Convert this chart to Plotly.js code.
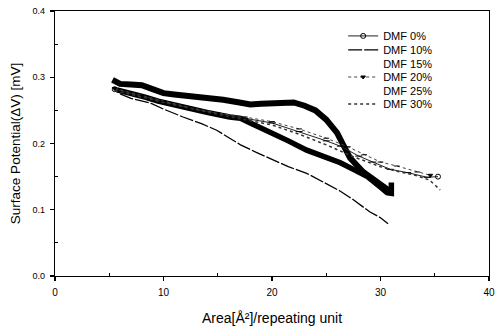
<!DOCTYPE html>
<html>
<head>
<meta charset="utf-8">
<script src="https://cdn.plot.ly/plotly-3.0.1.min.js"></script>
<style>html,body{margin:0;padding:0;background:#fff;}#chart{width:497px;height:328px;}</style>
</head>
<body>
<div id="chart"></div>
<script>
// ---- data ----
var seriesNames = ['DMF 0%', 'DMF 10%', 'DMF 15%', 'DMF 20%', 'DMF 25%', 'DMF 30%'];

var x0 = [5.5, 8, 10, 12.5, 15, 17.5, 20, 22.5, 25, 26.3, 28, 29.3, 30.9, 32.5, 34.3, 35.3];
var y0 = [0.282, 0.271, 0.263, 0.253, 0.245, 0.238, 0.231, 0.218, 0.204, 0.196, 0.181, 0.172, 0.161, 0.156, 0.149, 0.15];

var x10 = [6, 7, 8.8, 10, 11.8, 13.5, 14.9, 16.1, 17.1, 18.5, 20.1, 21.5, 23.2, 24.7, 26.3, 27.5, 29, 30, 30.7];
var y10 = [0.275, 0.268, 0.261, 0.252, 0.24, 0.23, 0.22, 0.208, 0.198, 0.187, 0.175, 0.165, 0.155, 0.142, 0.128, 0.115, 0.097, 0.088, 0.079];

var x15 = [5.3, 6, 7, 8, 9, 10, 11, 12.5, 14, 15.5, 17, 18, 19, 20, 21, 22, 23, 24, 25, 26, 26.5, 27.2, 28.4, 29.7, 30.6, 30.9];
var y15 = [0.296, 0.29, 0.289, 0.288, 0.282, 0.276, 0.274, 0.272, 0.27, 0.266, 0.262, 0.259, 0.26, 0.26, 0.262, 0.262, 0.257, 0.25, 0.236, 0.216, 0.2, 0.178, 0.157, 0.141, 0.131, 0.124];

var x20 = [5.5, 8, 10, 12.5, 15, 17.5, 20, 22.5, 25, 27, 28.5, 30, 31.5, 33.4, 34.6];
var y20 = [0.283, 0.272, 0.264, 0.254, 0.246, 0.24, 0.233, 0.222, 0.208, 0.195, 0.183, 0.172, 0.166, 0.157, 0.152];

var x25 = [5.7, 7, 8.3, 9.5, 11, 12.5, 14, 16.1, 17.1, 18, 20.1, 21.5, 23.2, 24.8, 26.3, 27.5, 28.8, 30, 30.6, 31, 31];
var y25 = [0.281, 0.276, 0.27, 0.264, 0.258, 0.252, 0.247, 0.24, 0.238, 0.231, 0.216, 0.204, 0.19, 0.18, 0.171, 0.161, 0.15, 0.134, 0.126, 0.125, 0.141];

var x30 = [5.5, 10, 15, 17.5, 20, 22.5, 25, 27.5, 30, 31.5, 33, 34.5, 35.5];
var y30 = [0.28, 0.262, 0.244, 0.236, 0.228, 0.214, 0.198, 0.18, 0.165, 0.158, 0.153, 0.145, 0.13];

var xTickVals = [0, 10, 20, 30, 40];
var yTickVals = [0, 0.1, 0.2, 0.3, 0.4];

// ---- chart ----
var FONT = 'Liberation Sans, Arial, sans-serif';
function sym(n, first, rest) {
  var s = [];
  for (var i = 0; i < n; i++) s.push(i === 0 || i === n - 1 ? first : rest);
  return s;
}

var traces = [
  // thick curves (drawn under the thin ones, legend handled by twin entries)
  {x: x15, y: y15, mode: 'lines', line: {color: '#000', width: 6}, showlegend: false, hoverinfo: 'skip'},
  {x: x25, y: y25, mode: 'lines', line: {color: '#000', width: 5.5}, showlegend: false, hoverinfo: 'skip'},
  {x: x0, y: y0, name: seriesNames[0], legend: 'legend', mode: 'lines+markers',
   line: {color: '#222', width: 1},
   marker: {symbol: sym(x0.length, 'circle-open', 'line-ew'), size: 5, color: '#000', line: {width: 1, color: '#000'}}},
  {x: x10, y: y10, name: seriesNames[1], legend: 'legend2', mode: 'lines',
   line: {color: '#000', width: 1.3, dash: '14px,2px'}},
  {x: x15, y: y15, name: seriesNames[2], legend: 'legend3', mode: 'lines',
   line: {color: 'rgba(0,0,0,0)', width: 1}, hoverinfo: 'skip'},
  {x: x20, y: y20, name: seriesNames[3], legend: 'legend4', mode: 'lines+markers',
   line: {color: '#444', width: 1, dash: 'dot'},
   marker: {symbol: sym(x20.length, 'triangle-down', 'line-ew'), size: 4, color: '#000', line: {width: 1, color: '#000'}}},
  {x: x25, y: y25, name: seriesNames[4], legend: 'legend5', mode: 'lines',
   line: {color: 'rgba(0,0,0,0)', width: 1}, hoverinfo: 'skip'},
  {x: x30, y: y30, name: seriesNames[5], legend: 'legend6', mode: 'lines',
   line: {color: '#333', width: 1.5, dash: 'dot'}}
];

function leg(ypos) {
  return {x: 0.664, xanchor: 'left', y: ypos, yanchor: 'middle', bgcolor: 'rgba(0,0,0,0)',
          borderwidth: 0, font: {family: FONT, size: 11, color: '#000'}};
}

var layout = {
  width: 497, height: 328, autosize: false,
  margin: {l: 55, r: 8, t: 11, b: 52, pad: 0},
  paper_bgcolor: '#fff', plot_bgcolor: '#fff',
  showlegend: true,
  legend: leg(0.906), legend2: leg(0.853), legend3: leg(0.802),
  legend4: leg(0.751), legend5: leg(0.70), legend6: leg(0.649),
  font: {family: FONT, color: '#000'},
  xaxis: {
    range: [0, 40], tickmode: 'array', tickvals: xTickVals, ticktext: xTickVals.map(String),
    ticks: 'outside', ticklen: 4, tickwidth: 1.2, tickcolor: '#000', ticklabelstandoff: 3,
    showgrid: false, zeroline: false, showline: true, mirror: true, linecolor: '#000', linewidth: 1.3,
    tickfont: {family: FONT, size: 10, color: '#000'},
    minor: {tickmode: 'array', tickvals: [5, 15, 25, 35], ticks: 'inside', ticklen: 3, tickcolor: '#000', showgrid: false},
    title: {text: 'Area[Å²]/repeating unit', font: {family: FONT, size: 14, color: '#000'}, standoff: 16}
  },
  yaxis: {
    range: [0, 0.4], tickmode: 'array', tickvals: yTickVals, ticktext: yTickVals.map(function (v) { return v.toFixed(1); }),
    ticks: 'outside', ticklen: 4, tickwidth: 1.2, tickcolor: '#000', ticklabelstandoff: 3,
    showgrid: false, zeroline: false, showline: true, mirror: true, linecolor: '#000', linewidth: 1.3,
    tickfont: {family: FONT, size: 9, color: '#000'},
    minor: {tickmode: 'array', tickvals: [0.05, 0.15, 0.25, 0.35], ticks: 'inside', ticklen: 3, tickcolor: '#000', showgrid: false},
    title: {text: 'Surface Potential(ΔV) [mV]', font: {family: FONT, size: 13.5, color: '#000'}, standoff: 8}
  }
};

Plotly.newPlot('chart', traces, layout, {staticPlot: true, displayModeBar: false});
</script>
</body>
</html>
